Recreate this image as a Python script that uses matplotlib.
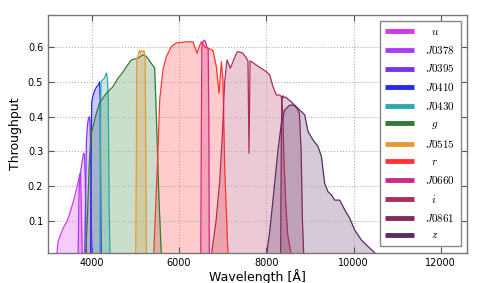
import matplotlib
matplotlib.use("Agg")
import matplotlib.pyplot as plt

plt.rcParams['mathtext.fontset'] = 'cm'
plt.rcParams['font.family'] = ['DejaVu Sans']

# ---- data ----
filter_names = ['u', 'J0378', 'J0395', 'J0410', 'J0430', 'g', 'J0515', 'r', 'J0660', 'i', 'J0861', 'z']
filter_colors = ['#d633f0', '#a83cf0', '#7a33f0', '#2828f0', '#2aa8a8', '#2e7d32',
                 '#e69a32', '#ff3333', '#d22a84', '#b02d5a', '#822a5a', '#5a2d64']

u_wl = [3200, 3230, 3270, 3350, 3440, 3520, 3600, 3670, 3720, 3745, 3765, 3785]
u_tp = [0.0, 0.04, 0.055, 0.08, 0.10, 0.13, 0.165, 0.20, 0.23, 0.24, 0.12, 0.0]

J0378_wl = [3690, 3705, 3720, 3745, 3770, 3795, 3815, 3835, 3855, 3870, 3885]
J0378_tp = [0.0, 0.15, 0.215, 0.24, 0.26, 0.28, 0.295, 0.29, 0.22, 0.08, 0.0]

J0395_wl = [3840, 3860, 3880, 3900, 3920, 3945, 3960, 3980, 3995, 4010]
J0395_tp = [0.0, 0.15, 0.33, 0.37, 0.39, 0.40, 0.39, 0.30, 0.08, 0.0]

J0410_wl = [3975, 3990, 4000, 4030, 4070, 4110, 4150, 4180, 4195, 4210, 4220]
J0410_tp = [0.0, 0.30, 0.44, 0.46, 0.475, 0.485, 0.49, 0.50, 0.45, 0.10, 0.0]

J0430_wl = [4190, 4205, 4215, 4250, 4290, 4320, 4340, 4360, 4380, 4400, 4420]
J0430_tp = [0.0, 0.40, 0.50, 0.505, 0.51, 0.52, 0.525, 0.51, 0.45, 0.15, 0.0]

g_wl = [3860, 3900, 3940, 3975, 3993, 4108, 4183, 4337, 4488, 4603, 4700, 4795, 4910,
        5061, 5176, 5254, 5368, 5444, 5483, 5543, 5598]
g_tp = [0.0, 0.10, 0.25, 0.33, 0.352, 0.41, 0.44, 0.467, 0.486, 0.51, 0.525, 0.543, 0.563,
        0.568, 0.578, 0.573, 0.553, 0.539, 0.40, 0.16, 0.0]

J0515_wl = [5010, 5025, 5035, 5060, 5090, 5110, 5140, 5170, 5200, 5225, 5240, 5255]
J0515_tp = [0.0, 0.30, 0.56, 0.575, 0.59, 0.58, 0.59, 0.585, 0.59, 0.57, 0.30, 0.0]

r_wl = [5421, 5480, 5520, 5559, 5634, 5712, 5827, 5941, 6050, 6170, 6322, 6413, 6459,
        6514, 6590, 6700, 6780, 6858, 6918, 6973, 7009, 7048, 7124]
r_tp = [0.0, 0.18, 0.304, 0.448, 0.534, 0.573, 0.601, 0.612, 0.613, 0.615, 0.615, 0.582, 0.60,
        0.615, 0.60, 0.595, 0.59, 0.543, 0.467, 0.558, 0.505, 0.256, 0.0]

J0660_wl = [6500, 6515, 6525, 6550, 6580, 6610, 6640, 6670, 6685, 6695]
J0660_tp = [0.0, 0.40, 0.60, 0.615, 0.62, 0.615, 0.60, 0.595, 0.40, 0.0]

i_wl = [6743, 6850, 6934, 7000, 7048, 7101, 7179, 7239, 7317, 7353, 7468, 7546, 7582, 7605,
        7630, 7660, 7775, 8004, 8080, 8155, 8233, 8309, 8347, 8385, 8401, 8447, 8492, 8577]
i_tp = [0.0, 0.10, 0.213, 0.36, 0.50, 0.563, 0.539, 0.558, 0.582, 0.587, 0.582, 0.568, 0.56, 0.295,
        0.56, 0.558, 0.548, 0.529, 0.52, 0.486, 0.462, 0.462, 0.457, 0.405, 0.30, 0.15, 0.06, 0.0]

J0861_wl = [8330, 8345, 8355, 8380, 8420, 8460, 8500, 8550, 8600, 8650, 8700, 8760, 8800, 8830, 8860]
J0861_tp = [0.0, 0.30, 0.44, 0.46, 0.455, 0.455, 0.45, 0.445, 0.44, 0.43, 0.425, 0.41, 0.30, 0.10, 0.0]

z_wl = [8004, 8080, 8155, 8270, 8347, 8424, 8538, 8653, 8767, 8882, 8958, 9073, 9187, 9265,
        9340, 9416, 9494, 9569, 9684, 9799, 9913, 10028, 10182, 10372, 10562]
z_tp = [0.0, 0.07, 0.16, 0.304, 0.38, 0.419, 0.433, 0.433, 0.419, 0.405, 0.357, 0.333, 0.314, 0.285,
        0.208, 0.184, 0.175, 0.16, 0.16, 0.132, 0.108, 0.074, 0.045, 0.022, 0.0]

wavelengths = [u_wl, J0378_wl, J0395_wl, J0410_wl, J0430_wl, g_wl, J0515_wl, r_wl, J0660_wl, i_wl, J0861_wl, z_wl]
throughputs = [u_tp, J0378_tp, J0395_tp, J0410_tp, J0430_tp, g_tp, J0515_tp, r_tp, J0660_tp, i_tp, J0861_tp, z_tp]

x_ticks = [4000, 6000, 8000, 10000, 12000]
y_ticks = [0.1, 0.2, 0.3, 0.4, 0.5, 0.6]

# ---- plot ----
fig = plt.figure(figsize=(4.9, 2.83), dpi=100)
ax = fig.add_axes([0.098, 0.106, 0.855, 0.841])

handles = []
for name, col, wl, tp in zip(filter_names, filter_colors, wavelengths, throughputs):
    ax.fill_between(wl, tp, 0, color=col, alpha=0.25, lw=0)
    ax.plot(wl, tp, color=col, lw=0.9)
    h, = ax.plot([], [], color=col, lw=3.5, solid_capstyle='butt')
    handles.append(h)

labels = [r'$\ \ ' + n + '$' if len(n) == 1 else '$' + n + '$' for n in filter_names]

ax.set_xlim(3000, 12600)
ax.set_ylim(0.008, 0.692)
ax.set_xticks(x_ticks)
ax.set_yticks(y_ticks)
ax.set_xticklabels([str(t) for t in x_ticks])
ax.set_yticklabels(['%.1f' % t for t in y_ticks])
ax.tick_params(direction='in', labelsize=7, length=4, top=True, right=True, colors='#555555', labelcolor='black')
ax.grid(True, color='#b0b0b0', linestyle=':', lw=0.8)
for s in ax.spines.values():
    s.set_color('#777777')
    s.set_linewidth(1.0)

ax.set_xlabel('Wavelength [Å]', fontsize=9, labelpad=1)
ax.set_ylabel('Throughput', fontsize=9, labelpad=4)

leg = ax.legend(handles, labels, loc='upper right', fontsize=8, labelspacing=0.62,
                handlelength=2.6, handletextpad=1.0, borderaxespad=0.55,
                fancybox=False, framealpha=1, edgecolor='#888888', borderpad=0.5)
leg.get_frame().set_linewidth(1.0)

fig.savefig('out.png', dpi=100)
